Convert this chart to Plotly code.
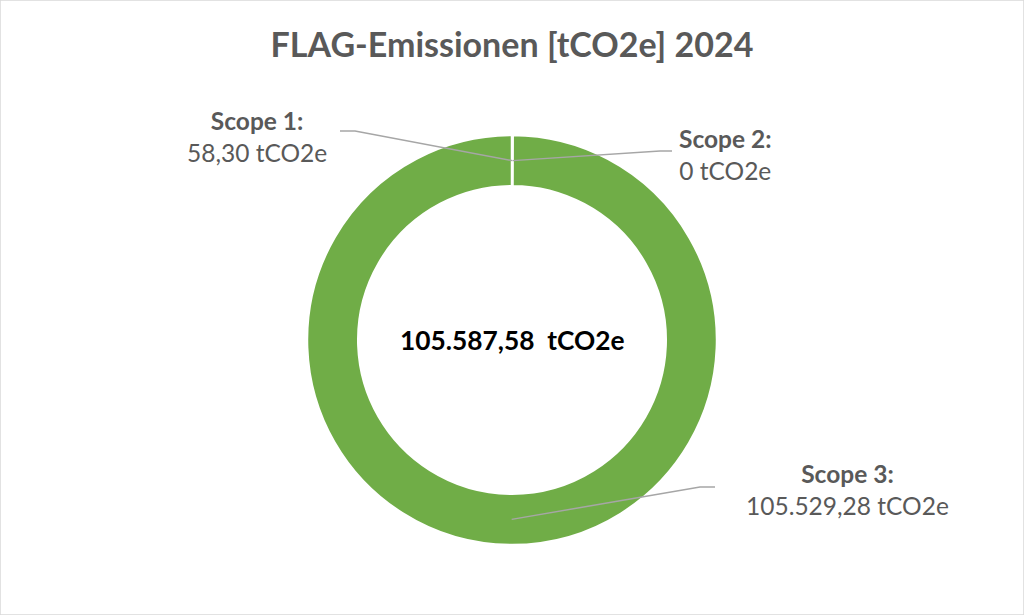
"""
FLAG-Emissionen 2024 - Donut nach Scope
"""

import math
import plotly.graph_objects as go

# ============================================================================
# DATEN
# ============================================================================
scopes = ['Scope 1', 'Scope 2', 'Scope 3']
emissionen = [58.30, 0.0, 105529.28]
titel = "FLAG-Emissionen [tCO2e] 2024"
einheit = "tCO2e"

# ============================================================================
# LAYOUT-KONSTANTEN (px)
# ============================================================================
W, H = 1024, 615
CX, CY = 512, 340
R_AUSSEN = 205
HOLE = 0.75
GRUEN = '#70AD47'
GRAU_TEXT = '#595959'
GRAU_LINIE = '#A6A6A6'

# Label-Position (Mitte Text) und Knick/Ende der Führungslinie
label_pos = {
    'Scope 1': dict(text=(257, 136), knick=(355, 131), ende=(340, 131)),
    'Scope 2': dict(text=(725, 155), knick=(660, 151), ende=(672, 151)),
    'Scope 3': dict(text=(847, 489), knick=(700, 487), ende=(715, 487)),
}


def de_format(v):
    if v == 0:
        return "0"
    s = f"{v:,.2f}"
    return s.replace(',', 'X').replace('.', ',').replace('X', '.')


def px2paper(x, y):
    return x / W, 1 - y / H


gesamt = sum(emissionen)

fig = go.Figure(go.Pie(
    labels=scopes,
    values=emissionen,
    hole=HOLE,
    sort=False,
    direction='clockwise',
    rotation=0,
    textinfo='none',
    marker=dict(colors=[GRUEN] * len(scopes), line=dict(color='white', width=2.5)),
    domain=dict(
        x=[(CX - R_AUSSEN) / W, (CX + R_AUSSEN) / W],
        y=[1 - (CY + R_AUSSEN) / H, 1 - (CY - R_AUSSEN) / H],
    ),
    showlegend=False,
    hoverinfo='label+value',
))

# Führungslinien: Anker auf Ringmitte, berechnet aus den Daten
r_mitte = R_AUSSEN * (1 + HOLE) / 2
kum = 0.0
shapes = []
annotations = []
for name, val in zip(scopes, emissionen):
    mitte = (kum + val / 2) / gesamt
    kum += val
    theta = 2 * math.pi * mitte
    ax = CX + r_mitte * math.sin(theta)
    ay = CY - r_mitte * math.cos(theta)
    pos = label_pos[name]
    pts = [px2paper(ax, ay), px2paper(*pos['knick']), px2paper(*pos['ende'])]
    path = "M {} {} L {} {} L {} {}".format(*[c for p in pts for c in p])
    shapes.append(dict(type='path', xref='paper', yref='paper', path=path,
                       line=dict(color=GRAU_LINIE, width=1.5)))
    tx, ty = px2paper(*pos['text'])
    annotations.append(dict(
        x=tx, y=ty, xref='paper', yref='paper', showarrow=False,
        text=f"<b>{name}:</b><br>{de_format(val)} {einheit}",
        align='center', xanchor='center', yanchor='middle',
        font=dict(family='Lato', size=24.5, color=GRAU_TEXT),
    ))

# Gesamtsumme in der Mitte
annotations.append(dict(
    x=CX / W, y=1 - CY / H, xref='paper', yref='paper', showarrow=False,
    text=f"<b>{de_format(gesamt)}&nbsp;&nbsp;{einheit}</b>",
    xanchor='center', yanchor='middle',
    font=dict(family='Lato', size=26.3, color='black'),
))

# Rahmen
shapes.append(dict(type='rect', xref='paper', yref='paper', x0=0, y0=0, x1=1, y1=1,
                   line=dict(color='#D9D9D9', width=1.5)))

fig.update_layout(
    title=dict(
        text=f"<b>{titel}</b>",
        x=0.5, xanchor='center', y=1 - 45 / H, yanchor='middle',
        font=dict(family='Lato', size=34, color=GRAU_TEXT),
    ),
    width=W,
    height=H,
    margin=dict(l=0, r=0, t=0, b=0),
    paper_bgcolor='white',
    plot_bgcolor='white',
    shapes=shapes,
    annotations=annotations,
)

fig.write_html(
    "out.html",
    config={'displayModeBar': False},
    post_script="document.body.style.margin='0';document.body.style.overflow='hidden';",
)
